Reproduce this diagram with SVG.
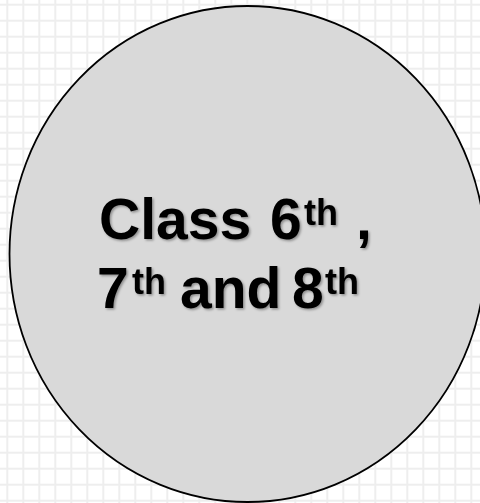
<svg xmlns="http://www.w3.org/2000/svg" width="480" height="503" viewBox="0 0 480 503">
  <defs>
    <pattern id="grid" x="6.3" y="3.7" width="16" height="16" patternUnits="userSpaceOnUse">
      <path d="M1 0V16M0 1H16" stroke="#eeeeee" stroke-width="2" fill="none"/>
    </pattern>
    <filter id="shadow" x="-10%" y="-20%" width="120%" height="150%">
      <feDropShadow dx="1.5" dy="1.5" stdDeviation="1" flood-color="#000" flood-opacity="0.35"/>
    </filter>
  </defs>
  <style>
    .big { font-family: "Liberation Sans", Arial, sans-serif; font-weight: bold; font-size: 57px; fill: #000; }
    .sup { font-size: 36px; }
  </style>
  <rect width="480" height="503" fill="#ffffff"/>
  <rect width="480" height="503" fill="url(#grid)"/>
  <g id="node-class">
    <ellipse cx="247.5" cy="254" rx="238" ry="248" fill="#d9d9d9" stroke="#000" stroke-width="1.8"/>
    <g filter="url(#shadow)">
      <text class="big"><tspan x="99" y="239">Class</tspan><tspan x="270" y="239">6</tspan><tspan class="sup" x="304" y="225">th</tspan><tspan x="356" y="239">,</tspan></text>
      <text class="big"><tspan x="97" y="308">7</tspan><tspan class="sup" x="132" y="294">th</tspan><tspan x="180" y="308">and</tspan><tspan x="292" y="308">8</tspan><tspan class="sup" x="325" y="294">th</tspan></text>
    </g>
  </g>
</svg>
